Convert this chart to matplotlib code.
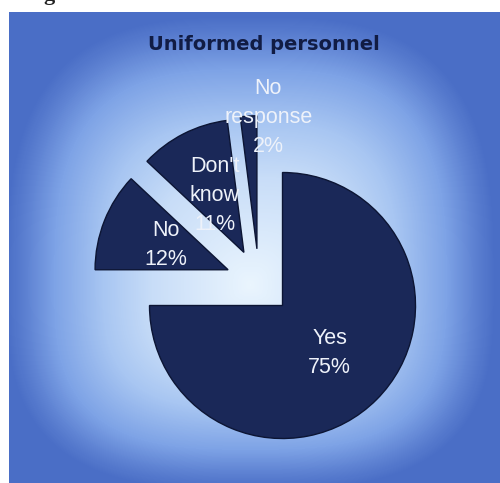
import numpy as np
import matplotlib
matplotlib.use("Agg")
import matplotlib.pyplot as plt
from matplotlib.colors import LinearSegmentedColormap

# ---- data ----
categories = ["Yes", "No", "Don't\nknow", "No\nresponse"]
values = [75, 12, 11, 2]
pct_labels = ["75%", "12%", "11%", "2%"]
title = "Uniformed personnel"

# ---- styles ----
W, H = 500, 483
slice_color = "#1a2858"
edge_color = "#0c1534"
label_r = [0.50, 0.50, 0.48, 0.99]
label_dtheta = [0, 0, 0, -8.5]
explode = [0.25] * 4

fig = plt.figure(figsize=(W / 100, H / 100), dpi=100)
fig.patch.set_facecolor("white")

# background panel with a box-shaped "from centre" gradient
px0, py0 = 9, 12  # panel left, top in pixels
bg = fig.add_axes([px0 / W, 0, (W - px0) / W, (H - py0) / H])
bg.set_axis_off()
ny, nx = H - py0, W - px0
yy, xx = np.mgrid[0:ny, 0:nx]
cx, cy = 250 - px0, 285 - py0
sx = 245.0
sy = np.where(yy < cy, 270.0, 205.0)
p = 3.0
t = ((np.abs(xx - cx) / sx) ** p + (np.abs(yy - cy) / sy) ** p) ** (1 / p)
t = np.clip(t, 0, 1)
cmap = LinearSegmentedColormap.from_list(
    "bgc", [(0.0, "#eaf5fe"), (0.4, "#c8ddf8"), (0.6, "#a8c6f2"),
            (0.8, "#7ea3e6"), (0.93, "#5a7ed0"), (1.0, "#4a6ec6")])
bg.imshow(t, cmap=cmap, vmin=0, vmax=1, aspect="auto", interpolation="bilinear")
bg.set_xlim(-0.5, nx - 0.5)
bg.set_ylim(ny - 0.5, -0.5)

# pie axes covering full figure, 1 data unit = R pixels
R = 133.0
pcx, pcy = 259.0, 282.0
ax = fig.add_axes([0, 0, 1, 1])
ax.set_axis_off()
ax.patch.set_alpha(0)
wedges, _ = ax.pie(values, startangle=90, counterclock=False, explode=explode,
                   colors=[slice_color] * 4, radius=1.0,
                   wedgeprops=dict(edgecolor=edge_color, linewidth=1.0))
ax.set_xlim(-pcx / R, (W - pcx) / R)
ax.set_ylim(-(H - pcy) / R, pcy / R)
ax.set_aspect("equal", adjustable="datalim")

for w, cat, pct, lr, dth in zip(wedges, categories, pct_labels, label_r, label_dtheta):
    th = np.deg2rad((w.theta1 + w.theta2) / 2 + dth)
    x = w.center[0] + lr * np.cos(th)
    y = w.center[1] + lr * np.sin(th)
    ax.text(x, y, cat + "\n" + pct, ha="center", va="center", color="#eef2fa",
            fontsize=15.5, family="Liberation Sans", linespacing=1.5)

fig.text(264 / W, 1 - 44 / H, title, ha="center", va="center", color="#111c44",
         fontsize=14, fontweight="bold", family="DejaVu Sans")

# cut-off glyph from the page above the chart
fig.text(49 / W, 1.0, "g", ha="center", va="baseline", color="#222222",
         fontsize=16, family="Liberation Serif", fontweight="bold")

fig.savefig("out.png", dpi=100)
